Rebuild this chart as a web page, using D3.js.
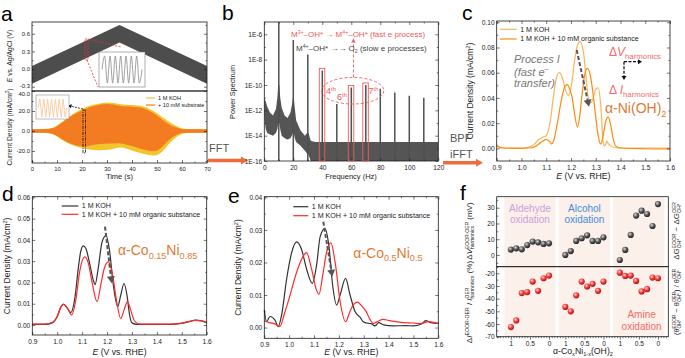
<!DOCTYPE html>
<html>
<head>
<meta charset="utf-8">
<script src="https://cdn.jsdelivr.net/npm/d3@7"></script>
<style>
  body { margin: 0; background: #fff; }
</style>
</head>
<body>
<script>
// ---------- data ----------

// a: centre of the AC-modulated potential ramp, and current envelopes
const rampTime = [0, 35, 70];
const rampCentre = [-0.1, 0.6, -0.1];
const acAmplitude = 0.15;
const insetWave = [0, 1, -1, 1, -1, 1, -1, 1, -1, 1, -1, 1, -1, 1, -1, 0];
const envTime = [0, 8, 10, 12.5, 15, 17.5, 20, 22.5, 25, 27.5, 30, 32.5, 35, 37.5, 40, 42.5, 45, 47.5, 50, 52.5, 55, 57.5, 60, 62, 70];
const kohTop = [1.7, 1.8, 5.5, 10, 15, 19, 22, 25, 26.5, 28, 28.7, 28, 27, 26, 26, 25.5, 24.5, 21.5, 18, 13, 9, 5, 2.5, 1.8, 1.7];
const kohBot = [-1.7, -1.8, -5.5, -10, -13, -15.5, -17, -18.5, -19, -19.2, -19, -18, -16, -17.5, -19.5, -21.5, -23, -24.5, -25, -20, -12, -6, -2.5, -1.8, -1.7];
const subTop = [1.7, 1.7, 5, 9, 14, 17.7, 20.3, 23.7, 25, 26.7, 27.3, 26.7, 25, 24.3, 24.3, 23.7, 22.7, 19.3, 16, 10.3, 6, 3.7, 1.7, 1.7, 1.7];
const subBot = [-1.7, -1.7, -5, -9, -12, -14.5, -16, -15, -13.5, -13, -12.5, -12.5, -12, -13.5, -15, -17, -19, -20, -20.5, -15, -8, -4, -1.7, -1.7, -1.7];

// b: power spectrum (log10 power)
const harmFreq = [10, 20, 30, 40, 50, 60, 70, 80, 90, 100, 110];
const harmLogP = [-4.5, -6.45, -7.6, -8.85, -11.5, -10.2, -10.0, -10.3, -10.6, -10.85, -11.0];
const boxedHarm = [40, 60, 70];
const noiseFreq = [0, 1, 2, 4, 6, 8, 9, 9.6, 10.4, 11, 12, 14, 16, 18, 19, 19.7, 20.3, 21, 22, 25, 28, 29.5, 30.5, 32, 35, 120];
const noiseHi = [-11.0, -11.3, -11.7, -12.2, -12.4, -11.9, -11.0, -10.0, -10.0, -11.0, -11.8, -12.4, -12.6, -12.2, -11.6, -11.0, -11.0, -11.8, -12.8, -13.6, -14.0, -13.8, -13.8, -14.4, -14.5, -14.5];
const noiseLo = [-12.5, -13.5, -13.8, -13.9, -14.0, -13.8, -13.5, -13.0, -13.0, -13.5, -14.0, -14.2, -14.3, -14.2, -14.0, -13.8, -13.8, -14.2, -14.5, -14.8, -15.2, -15.4, -15.5, -16, -16, -16];

// c: alpha-Ni(OH)2 harmonics  [E, j]
const niKOH = [[0.90,0.003],[0.91,0.001],[0.93,0.0005],[0.95,0.0003],[1.00,0.0003],[1.03,0.001],[1.05,0.003],[1.07,0.007],[1.085,0.0088],[1.10,0.010],[1.115,0.02],[1.13,0.042],[1.14,0.055],[1.153,0.060],[1.165,0.056],[1.18,0.045],[1.19,0.042],[1.20,0.048],[1.215,0.070],[1.225,0.081],[1.236,0.0847],[1.25,0.077],[1.26,0.058],[1.27,0.040],[1.28,0.036],[1.29,0.040],[1.30,0.047],[1.31,0.048],[1.32,0.035],[1.33,0.005],[1.335,0.002],[1.34,0.003],[1.345,0.006],[1.35,0.004],[1.36,0.002],[1.38,0.0005],[1.40,0.0003],[1.50,0.0002],[1.60,0.0002]];
const niOrg = [[0.90,0.002],[0.92,0.0003],[1.00,0.0],[1.04,0.0005],[1.06,0.002],[1.08,0.005],[1.10,0.0072],[1.115,0.005],[1.122,0.0035],[1.13,0.006],[1.145,0.02],[1.16,0.037],[1.175,0.049],[1.185,0.0505],[1.195,0.047],[1.205,0.04],[1.215,0.027],[1.226,0.017],[1.235,0.025],[1.245,0.043],[1.255,0.058],[1.266,0.0635],[1.278,0.058],[1.29,0.042],[1.30,0.025],[1.31,0.01],[1.32,0.0035],[1.33,0.01],[1.34,0.021],[1.35,0.025],[1.36,0.019],[1.37,0.008],[1.38,0.002],[1.40,0.0003],[1.50,-0.0003],[1.60,-0.0005]];

// d: alpha-Co0.15Ni0.85
const co15KOH = [[0.90,0.0003],[0.95,0.0003],[0.98,0.001],[1.00,0.004],[1.015,0.0085],[1.025,0.0098],[1.04,0.008],[1.055,0.0058],[1.07,0.012],[1.085,0.027],[1.095,0.035],[1.105,0.0372],[1.115,0.036],[1.13,0.029],[1.145,0.021],[1.152,0.019],[1.165,0.027],[1.18,0.039],[1.196,0.042],[1.21,0.035],[1.225,0.019],[1.243,0.0086],[1.255,0.014],[1.268,0.0195],[1.28,0.014],[1.29,0.005],[1.30,0.001],[1.32,0.0003],[1.45,0.0003],[1.50,0.0008],[1.53,0.0016],[1.555,0.0023],[1.58,0.0019],[1.60,0.0011]];
const co15Org = [[0.90,0.0004],[0.95,0.0004],[0.98,0.0012],[1.00,0.004],[1.015,0.0085],[1.027,0.0097],[1.04,0.008],[1.058,0.0047],[1.075,0.012],[1.09,0.025],[1.11,0.032],[1.125,0.029],[1.14,0.02],[1.16,0.011],[1.175,0.019],[1.19,0.027],[1.205,0.0297],[1.22,0.025],[1.24,0.01],[1.255,0.003],[1.268,0.007],[1.282,0.011],[1.295,0.007],[1.31,0.002],[1.33,0.0004],[1.45,0.0004],[1.50,0.0009],[1.53,0.0017],[1.555,0.0022],[1.58,0.0019],[1.60,0.0012]];

// e: alpha-Co0.5Ni0.5
const co50KOH = [[0.90,0.0054],[0.909,0.0018],[0.923,0.0034],[0.943,0.0023],[0.956,0.0003],[0.97,0.004],[0.99,0.015],[1.01,0.023],[1.03,0.0263],[1.05,0.024],[1.07,0.018],[1.093,0.0136],[1.11,0.019],[1.125,0.028],[1.144,0.0304],[1.16,0.025],[1.175,0.013],[1.191,0.0069],[1.205,0.01],[1.227,0.0151],[1.245,0.01],[1.265,0.0049],[1.285,0.0032],[1.298,0.0018],[1.318,0.0013],[1.33,0.0012],[1.345,0.0005],[1.36,0.0015],[1.38,0.0008],[1.42,0.0005],[1.47,0.0006],[1.50,0.0005],[1.53,0.001],[1.55,0.0021],[1.57,0.0015],[1.60,0.0013]];
const co50Org = [[0.90,0.002],[0.92,0.0015],[0.94,0.0012],[0.963,0.0003],[0.98,0.004],[1.00,0.009],[1.03,0.017],[1.05,0.021],[1.07,0.023],[1.09,0.018],[1.11,0.0115],[1.12,0.0102],[1.135,0.016],[1.15,0.023],[1.168,0.026],[1.185,0.02],[1.205,0.008],[1.227,0.0018],[1.245,0.005],[1.26,0.0072],[1.275,0.0078],[1.29,0.0068],[1.31,0.0049],[1.325,0.0025],[1.338,0.0013],[1.355,0.0018],[1.378,0.0025],[1.40,0.0022],[1.43,0.0018],[1.46,0.0015],[1.50,0.0014],[1.53,0.0012],[1.56,0.0018],[1.60,0.0012]];

// f: eight compositions (x = 1 ... 0) per reaction
const reactions = ["Aldehyde", "Alcohol", "Amine"];
const compTicks = ["1", "0.5", "0"];
const dVharm = [
  [3.4, 4.2, 3.6, 6.3, 8.5, 8.0, 7.0, 7.4],
  [0.0, 2.5, 8.9, 10.6, 12.5, 8.9, 8.9, 11.2],
  [-3.2, 3.2, 12.7, 25.0, 28.1, 26.0, 18.4, 32.3]
];
const dIharm = [
  [-62.4, -57.2, -35.6, -34.8, -26.5, -33.8, -23.9, -21.8],
  [-46.5, -50.0, -37.4, -26.5, -30.4, -28.3, -33.8, -26.5],
  [-19.5, -22.1, -21.8, -26.0, -34.3, -32.5, -23.4, -23.9]
];

// ---------- setup ----------
const W = 685, H = 358;
const INK = "#1a1a1a";
const RED_TXT = "#f26b6b";
const ORANGE_TXT = "#e07a35";

const svg = d3.select("body").append("svg")
  .attr("width", W).attr("height", H)
  .style("font-family", "'Liberation Sans', Arial, Helvetica, sans-serif");
const defs = svg.append("defs");

// rich text: strings, {t, s:"sup"/"sub", i:true}, or {stack:[sup, sub]}
function rich(text, parts, fs) {
  let off = 0, pad = 0;
  const shift = { sup: -0.38 * fs, sub: 0.25 * fs };
  parts.forEach(p => {
    if (typeof p === "string") p = { t: p };
    if (p.stack) {
      const a = text.append("tspan").attr("font-size", fs * 0.62)
        .attr("dx", pad).attr("dy", shift.sup - off).text(p.stack[0]);
      const wa = a.node().getComputedTextLength();
      const b = text.append("tspan").attr("font-size", fs * 0.62)
        .attr("dx", -wa).attr("dy", shift.sub - shift.sup).text(p.stack[1]);
      const wb = b.node().getComputedTextLength();
      off = shift.sub; pad = Math.max(0, wa - wb);
      return;
    }
    const target = p.s ? shift[p.s] : 0;
    const ts = text.append("tspan").attr("dx", pad).attr("dy", target - off).text(p.t);
    if (p.s) ts.attr("font-size", fs * 0.65);
    if (p.i) ts.attr("font-style", "italic");
    off = target; pad = 0;
  });
  return text;
}

function label(g, x, y, parts, o = {}) {
  const fs = o.fs || 8;
  const t = g.append("text").attr("x", x).attr("y", y)
    .attr("font-size", fs).attr("fill", o.fill || INK)
    .attr("text-anchor", o.anchor || "start");
  if (o.rot) t.attr("transform", `rotate(${o.rot},${x},${y})`);
  if (o.italic) t.attr("font-style", "italic");
  return rich(t, parts, fs);
}

function arrow(g, x1, y1, x2, y2, o) {
  const ang = Math.atan2(y2 - y1, x2 - x1), L = o.head || 5, hw = o.headW || 2.8;
  const bx = x2 - L * Math.cos(ang), by = y2 - L * Math.sin(ang);
  g.append("line").attr("x1", x1).attr("y1", y1).attr("x2", bx).attr("y2", by)
    .attr("stroke", o.color).attr("stroke-width", o.width || 1)
    .attr("stroke-dasharray", o.dash || null);
  const px = -Math.sin(ang) * hw, py = Math.cos(ang) * hw;
  g.append("path").attr("d", `M${x2},${y2}L${bx + px},${by + py}L${bx - px},${by - py}Z`)
    .attr("fill", o.color);
}

// frame with inward ticks (Origin style), mirrored on top/right
function frame(g, x, y, o) {
  const [xl, xr] = x.range(), [yb, yt] = y.range();
  const fs = o.fs || 6.8;
  const put = (fn, scale, vals, size, fmt, tx, ty, pad) => {
    const a = g.append("g").attr("transform", `translate(${tx},${ty})`)
      .call(fn(scale).tickValues(vals).tickSize(size).tickSizeOuter(0)
        .tickPadding(pad).tickFormat(fmt || (() => "")));
    a.select(".domain").remove();
    a.attr("font-family", null).attr("font-size", fs);
    a.selectAll("line").attr("stroke", INK).attr("stroke-width", 0.6);
    a.selectAll("text").attr("fill", INK);
    return a;
  };
  if (o.xTicks) {
    const xin = o.xOut ? 3 : -3;
    put(d3.axisBottom, x, o.xTicks, xin, o.xFmt, 0, yb, o.xOut ? 2 : 4);
    if (o.xMinor) put(d3.axisBottom, x, o.xMinor, xin / 2, null, 0, yb, 0);
    if (!o.noTop) {
      put(d3.axisTop, x, o.xTicks, -3, null, 0, yt, 0);
      if (o.xMinor) put(d3.axisTop, x, o.xMinor, -1.5, null, 0, yt, 0);
    }
  }
  const left = put(d3.axisLeft, y, o.yTicks, -3, o.yFmt, xl, 0, 2);
  if (o.yMinor) put(d3.axisLeft, y, o.yMinor, -1.5, null, xl, 0, 0);
  if (!o.noRight) {
    put(d3.axisRight, y, o.yTicks, -3, null, xr, 0, 0);
    if (o.yMinor) put(d3.axisRight, y, o.yMinor, -1.5, null, xr, 0, 0);
  }
  g.append("rect").attr("x", xl).attr("y", yt).attr("width", xr - xl).attr("height", yb - yt)
    .attr("fill", "none").attr("stroke", INK).attr("stroke-width", 0.8);
  return left;
}

function panelLetter(ch, x, y) {
  svg.append("text").attr("x", x).attr("y", y).attr("font-size", 21).attr("fill", "#000").text(ch);
}

const fix = n => d => d.toFixed(n);
const eTicks = d3.range(0.9, 1.6001, 0.1);
const eMinor = d3.range(0.95, 1.6, 0.1);

// ========== panel a ==========
{
  const g = svg.append("g");
  const x = d3.scaleLinear().domain([0, 70]).range([32, 207]);
  const yT = d3.scaleLinear().domain([-0.373, 0.8]).range([91, 22]);
  const yB = d3.scaleLinear().domain([-32, 40]).range([163, 91]);

  // modulated potential band
  const centre = d3.scaleLinear().domain(rampTime).range(rampCentre);
  g.append("path")
    .datum(rampTime)
    .attr("d", d3.area().x(d => x(d))
      .y0(d => yT(centre(d) - acAmplitude)).y1(d => yT(centre(d) + acAmplitude)))
    .attr("fill", "#4d4d4d");

  // current envelopes
  const env = (top, bot) => d3.area().curve(d3.curveBasis)
    .x((d, i) => x(envTime[i])).y0((d, i) => yB(bot[i])).y1((d, i) => yB(top[i]));
  g.append("path").datum(envTime).attr("d", env(kohTop, kohBot)).attr("fill", "#f2c52a");
  g.append("path").datum(envTime).attr("d", env(subTop, subBot)).attr("fill", "#f37b21");

  const lb = frame(g, x, yB, {
    xTicks: d3.range(0, 71, 10), xMinor: d3.range(5, 70, 10), xFmt: d => d,
    yTicks: [-20, 0, 20, 40], yMinor: [-30, -10, 10, 30], yFmt: fix(1), fs: 5.9, noTop: true
  });
  // keep "40.0" clear of the upper panel's "-0.3"
  lb.selectAll(".tick").filter(d => d === 40).select("text").attr("dy", "0.75em");
  const lt = frame(g, x, yT, {
    yTicks: [-0.3, 0, 0.3, 0.6], yMinor: [-0.15, 0.15, 0.45, 0.75], yFmt: fix(1), fs: 5.9
  });
  lt.selectAll(".tick").filter(d => d === -0.3).select("text").attr("dy", "0.1em");

  // zoom on the sine modulation
  g.append("rect").attr("x", 85).attr("y", 39).attr("width", 3).attr("height", 21)
    .attr("fill", "none").attr("stroke", "#e8353a").attr("stroke-width", 0.8).attr("stroke-dasharray", "2,1");
  g.append("line").attr("x1", 88).attr("y1", 39).attr("x2", 121).attr("y2", 47)
    .attr("stroke", "#e8353a").attr("stroke-width", 0.8).attr("stroke-dasharray", "2,1.5");
  g.append("line").attr("x1", 87).attr("y1", 60).attr("x2", 98).attr("y2", 87)
    .attr("stroke", "#e8353a").attr("stroke-width", 0.8).attr("stroke-dasharray", "2,1.5");
  g.append("rect").attr("x", 99).attr("y", 52).attr("width", 46).attr("height", 35)
    .attr("fill", "#fff").attr("stroke", "#777").attr("stroke-width", 0.6);
  const ix = d3.scaleLinear().domain([0, insetWave.length - 1]).range([102, 142]);
  const iy = d3.scaleLinear().domain([-1, 1]).range([83, 56]);
  g.append("path").datum(insetWave)
    .attr("d", d3.line().curve(d3.curveMonotoneX).x((d, i) => ix(i)).y(d => iy(d)))
    .attr("fill", "none").attr("stroke", "#777").attr("stroke-width", 0.7);

  // zoom on the current oscillation
  g.append("rect").attr("x", 83).attr("y", 110).attr("width", 2.5).attr("height", 43)
    .attr("fill", "none").attr("stroke", "#111").attr("stroke-width", 0.8).attr("stroke-dasharray", "3,1,1,1");
  arrow(g, 83, 109, 68, 105.5, { color: "#111", width: 0.8, dash: "2,1.2", head: 3.5, headW: 2 });
  g.append("rect").attr("x", 36).attr("y", 95).attr("width", 33).attr("height", 24)
    .attr("fill", "#fff").attr("stroke", "#777").attr("stroke-width", 0.5);
  const jx = d3.scaleLinear().domain([0, insetWave.length - 1]).range([38, 67]);
  const jy = d3.scaleLinear().domain([-1, 1]).range([117, 99]);
  g.append("path").datum(insetWave)
    .attr("d", d3.line().x((d, i) => jx(i)).y(d => jy(d)))
    .attr("fill", "none").attr("stroke", "#f8c9a0").attr("stroke-width", 0.9);

  // legend
  [["1 M KOH", "#f0c43a", 98], ["+ 10 mM substrate", "#f47920", 105]].forEach(([t, c, yy]) => {
    g.append("line").attr("x1", 146).attr("x2", 155).attr("y1", yy).attr("y2", yy)
      .attr("stroke", c).attr("stroke-width", 1.2);
    g.append("text").attr("x", 158).attr("y", yy + 2).attr("font-size", 5.6).attr("fill", INK).text(t);
  });

  label(g, 12, 56, [{ t: "E", i: true }, " vs. Ag/AgCl (V)"], { fs: 6.8, rot: -90, anchor: "middle" });
  label(g, 12, 127, ["Current Density (mA/cm", { t: "2", s: "sup" }, ")"], { fs: 6.8, rot: -90, anchor: "middle" });
  label(g, 119.5, 179, ["Time (s)"], { fs: 7.5, anchor: "middle" });
  panelLetter("a", 1, 21);
}

// FFT arrow
{
  const g = svg.append("g");
  g.append("text").attr("x", 209).attr("y", 152).attr("font-size", 11).attr("fill", "#555").text("FFT");
  arrow(g, 208, 160.5, 248, 160.5, { color: "#f16a3c", width: 3.5, head: 7, headW: 4 });
  g.append("text").attr("x", 450).attr("y", 142).attr("font-size", 11).attr("fill", "#555").text("BPF");
  g.append("text").attr("x", 450).attr("y", 158).attr("font-size", 11).attr("fill", "#555").text("iFFT");
  arrow(g, 443, 162.7, 483, 162.7, { color: "#f16a3c", width: 3.5, head: 7, headW: 4 });
}

// ========== panel b ==========
{
  const g = svg.append("g");
  const x = d3.scaleLinear().domain([0, 120]).range([264.3, 438.3]);
  const y = d3.scaleLinear().domain([-16, -5.03]).range([161, 22]);
  defs.append("clipPath").attr("id", "clipB").append("rect")
    .attr("x", 264.3).attr("y", 22).attr("width", 174).attr("height", 139);
  const plot = g.append("g").attr("clip-path", "url(#clipB)");

  plot.append("path").datum(noiseFreq)
    .attr("d", d3.area().x(d => x(d))
      .y0((d, i) => y(noiseLo[i])).y1((d, i) => y(noiseHi[i])))
    .attr("fill", "#555");
  plot.selectAll("line.peak").data(harmFreq).join("line")
    .attr("class", "peak")
    .attr("x1", d => x(d)).attr("x2", d => x(d))
    .attr("y1", y(-16)).attr("y2", (d, i) => y(harmLogP[i]))
    .attr("stroke", "#505050").attr("stroke-width", 1.5);

  frame(g, x, y, {
    xTicks: d3.range(0, 121, 20), xMinor: d3.range(10, 120, 20), xFmt: d => d,
    yTicks: [-16, -14, -12, -10, -8, -6], yMinor: [-15, -13, -11, -9, -7], yFmt: d => "1E" + d, fs: 6.6
  });

  // highlighted harmonics
  boxedHarm.forEach(f => {
    const p = harmLogP[harmFreq.indexOf(f)];
    g.append("rect").attr("x", x(f) - 3).attr("y", y(p) - 2)
      .attr("width", 5.5).attr("height", y(-16) - y(p) + 2)
      .attr("fill", "none").attr("stroke", "#f05a5a").attr("stroke-width", 0.9);
  });
  g.append("ellipse").attr("cx", x(61)).attr("cy", 90.7).attr("rx", 31).attr("ry", 13.3)
    .attr("fill", "none").attr("stroke", "#f05a5a").attr("stroke-width", 0.9).attr("stroke-dasharray", "3,2");
  arrow(g, x(61.5), 77.5, x(61.5), 38.5, { color: "#f05a5a", width: 0.9, dash: "3,2", head: 4, headW: 2.2 });
  [["4", 326, 94], ["6", 337, 100], ["7", 368.5, 94]].forEach(([n, xx, yy]) =>
    label(g, xx, yy, [n, { t: "th", s: "sup" }], { fs: 9, fill: "#f05a5a" }));

  label(g, 291, 37, ["M", { t: "3+", s: "sup" }, "–OH* → M", { t: "4+", s: "sup" }, "–OH* (fast e process)"],
    { fs: 8, fill: "#f05a5a" });
  label(g, 296, 51, ["M", { t: "4+", s: "sup" }, "–OH* →→ O", { t: "2", s: "sub" }, " (slow e processes)"],
    { fs: 8, fill: "#444" });

  label(g, 235, 92, ["Power Spectrum"], { fs: 7.3, rot: -90, anchor: "middle" });
  label(g, 351, 179, ["Frequency (Hz)"], { fs: 7.5, anchor: "middle" });
  panelLetter("b", 222, 20);
}

// generic harmonic-current panel (c, d, e)
function harmonicPanel(o) {
  const g = svg.append("g");
  const x = d3.scaleLinear().domain([0.9, 1.6]).range(o.xr);
  const y = d3.scaleLinear().domain(o.yd).range(o.yr);
  const line = d3.line().curve(d3.curveMonotoneX).x(d => x(d[0])).y(d => y(d[1]));
  o.series.forEach(s => {
    g.append("path").datum(s.data).attr("d", line)
      .attr("fill", "none").attr("stroke", s.color).attr("stroke-width", 1.2);
  });
  frame(g, x, y, {
    xTicks: eTicks, xMinor: eMinor, xFmt: fix(1),
    yTicks: o.yTicks, yMinor: o.yMinor, yFmt: fix(2), fs: 6.6
  });
  o.series.forEach((s, i) => {
    const yy = o.leg[1] + i * o.leg[3];
    g.append("line").attr("x1", o.leg[0]).attr("x2", o.leg[0] + o.leg[2])
      .attr("y1", yy).attr("y2", yy).attr("stroke", s.color).attr("stroke-width", 1.2);
    g.append("text").attr("x", o.leg[0] + o.leg[2] + 3.5).attr("y", yy + 2.4)
      .attr("font-size", 7.1).attr("fill", INK).text(s.name);
  });
  const [xl, xr] = o.xr, [yb, yt] = o.yr;
  label(g, o.ylabX, (yb + yt) / 2, ["Current Density (mA/cm", { t: "2", s: "sup" }, ")"],
    { fs: 8.5, rot: -90, anchor: "middle" });
  label(g, (xl + xr) / 2, o.xlabY, [{ t: "E", i: true }, " (V vs. RHE)"], { fs: 8.7, anchor: "middle" });
  return { g, x, y };
}

// ========== panel c ==========
{
  const { g } = harmonicPanel({
    xr: [496.7, 670], yr: [161, 21], yd: [-0.01, 0.101],
    yTicks: d3.range(0, 0.101, 0.02), yMinor: d3.range(0.01, 0.1, 0.02),
    series: [
      { name: "1 M KOH", color: "#f8b55a", data: niKOH },
      { name: "1 M KOH + 10 mM organic substance", color: "#ff8a10", data: niOrg }
    ],
    leg: [500, 29.3, 16.7, 9.7], ylabX: 473, xlabY: 179
  });
  label(g, 514, 62.5, ["Process I"], { fs: 11, fill: "#777", italic: true });
  label(g, 514, 75.5, ["(fast e", { t: "–", s: "sup" }], { fs: 11, fill: "#777", italic: true });
  label(g, 514, 87, ["transfer)"], { fs: 11, fill: "#777", italic: true });
  arrow(g, 576.7, 50, 589, 106.7, { color: "#555", width: 2, dash: "4,2.2", head: 7, headW: 4 });
  label(g, 609, 55.5, ["Δ", { t: "V", i: true }, { t: "harmonics", s: "sub" }], { fs: 12, fill: RED_TXT });
  label(g, 609, 93.5, ["Δ ", { t: "I", i: true }, { t: "harmonics", s: "sub" }], { fs: 12, fill: RED_TXT });
  arrow(g, 624, 61.7, 642, 61.7, { color: "#111", width: 1.3, dash: "3,1.5", head: 4, headW: 2.5 });
  arrow(g, 624, 61.7, 624, 80, { color: "#111", width: 1.3, dash: "3,1.5", head: 4, headW: 2.5 });
  label(g, 605, 113, ["α-Ni(OH)", { t: "2", s: "sub" }], { fs: 14, fill: ORANGE_TXT });
  panelLetter("c", 462, 20);
}

// ========== panel d ==========
{
  const { g } = harmonicPanel({
    xr: [32.3, 206.7], yr: [335, 196.7], yd: [-0.0047, 0.0603],
    yTicks: d3.range(0, 0.0601, 0.01), yMinor: d3.range(0.005, 0.06, 0.01),
    series: [
      { name: "1 M KOH", color: "#333", data: co15KOH },
      { name: "1 M KOH + 10 mM organic substance", color: "#ff2a2a", data: co15Org }
    ],
    leg: [61.7, 206, 16.6, 8.3], ylabX: 10, xlabY: 355
  });
  arrow(g, 105, 226.7, 111.7, 283.3, { color: "#555", width: 2, dash: "4,2.2", head: 7, headW: 4 });
  label(g, 118, 255, ["α-Co", { t: "0.15", s: "sub" }, "Ni", { t: "0.85", s: "sub" }], { fs: 14, fill: ORANGE_TXT });
  panelLetter("d", 2, 201);
}

// ========== panel e ==========
{
  const { g } = harmonicPanel({
    xr: [264.3, 438.3], yr: [338.3, 196.7], yd: [-0.0033, 0.0402],
    yTicks: d3.range(0, 0.0401, 0.01), yMinor: d3.range(0.005, 0.04, 0.01),
    series: [
      { name: "1 M KOH", color: "#333", data: co50KOH },
      { name: "1 M KOH + 10 mM organic substance", color: "#ff2a2a", data: co50Org }
    ],
    leg: [293.3, 206.7, 15, 9], ylabX: 241, xlabY: 355
  });
  arrow(g, 323.3, 221.7, 332.3, 276.7, { color: "#555", width: 2, dash: "4,2.2", head: 7, headW: 4 });
  label(g, 353.3, 257.7, ["α-Co", { t: "0.5", s: "sub" }, "Ni", { t: "0.5", s: "sub" }], { fs: 14, fill: ORANGE_TXT });
  panelLetter("e", 228, 203);
}

// ========== panel f ==========
{
  const g = svg.append("g");
  const x = d3.scaleLinear().domain([-2.6, 28.9]).range([496.7, 668.3]);
  const yT = d3.scaleLinear().domain([-7.45, 37]).range([266.7, 196.7]);
  const yB = d3.scaleLinear().domain([-70, -14.8]).range([336.7, 266.7]);
  const pos = (gi, i) => gi * 10 + i;

  // shaded reaction blocks
  reactions.forEach((r, gi) => {
    g.append("rect").attr("x", x(pos(gi, -1.2))).attr("y", 196.7)
      .attr("width", x(pos(gi, 8.2)) - x(pos(gi, -1.2))).attr("height", 140)
      .attr("fill", "#fcf0ea");
  });

  ["gBall", "rBall"].forEach((id, k) => {
    const rg = defs.append("radialGradient").attr("id", id)
      .attr("cx", "38%").attr("cy", "35%").attr("r", "65%");
    rg.append("stop").attr("offset", "0%").attr("stop-color", k ? "#ffd4d4" : "#d8d8d8");
    rg.append("stop").attr("offset", "55%").attr("stop-color", k ? "#f03a3a" : "#555");
    rg.append("stop").attr("offset", "100%").attr("stop-color", k ? "#b81010" : "#222");
  });

  const majors = reactions.flatMap((r, gi) => [0, 3.5, 7].map(p => pos(gi, p)));
  const minors = d3.range(-2.5, 28.6, 0.5).filter(v => !majors.includes(v));

  frame(g, x, yT, { yTicks: [0, 10, 20, 30], yMinor: [-5, 5, 15, 25, 35], yFmt: d => d, fs: 6.6, noRight: true });
  frame(g, x, yB, {
    xTicks: majors, xMinor: minors, xFmt: d => compTicks[majors.indexOf(d) % 3], xOut: true, noTop: true,
    yTicks: d3.range(-70, -19, 10), yMinor: d3.range(-65, -14, 10), yFmt: d => d, fs: 6.6, noRight: true
  });

  reactions.forEach((r, gi) => {
    g.selectAll(null).data(dVharm[gi]).join("circle")
      .attr("cx", (d, i) => x(pos(gi, i))).attr("cy", d => yT(d)).attr("r", 3.1)
      .attr("fill", "url(#gBall)");
    g.selectAll(null).data(dIharm[gi]).join("circle")
      .attr("cx", (d, i) => x(pos(gi, i))).attr("cy", d => yB(d)).attr("r", 3.1)
      .attr("fill", "url(#rBall)");
  });

  const tx = [
    [x(pos(0, 3.5)), 211.5, 223, "#c8a0dc"],
    [x(pos(1, 3.5)), 211.5, 223, "#3d8ddc"],
    [x(pos(2, 4)), 318.3, 330, RED_TXT]
  ];
  reactions.forEach((r, gi) => {
    const [cx, y1, y2, c] = tx[gi];
    g.append("text").attr("x", cx).attr("y", y1).attr("text-anchor", "middle")
      .attr("font-size", 10).attr("fill", c).text(r);
    g.append("text").attr("x", cx).attr("y", y2).attr("text-anchor", "middle")
      .attr("font-size", 10).attr("fill", c).text("oxidation");
  });

  label(g, 472, 231, ["Δ", { t: "V", i: true }, { stack: ["EOOR-OER", "harmonics"] }, " (mV)"],
    { fs: 8, rot: -90, anchor: "middle" });
  label(g, 472, 302, ["Δ", { t: "I", i: true }, { t: "EOOR-OER", s: "sup" }, " / ", { t: "I", i: true },
    { stack: ["OER", "harmonics"] }, " (%)"], { fs: 8, rot: -90, anchor: "middle" });
  label(g, 679, 231, ["ΔG", { stack: ["EOOR", "OH*"] }, " − ΔG", { stack: ["OER", "OH*"] }],
    { fs: 8, rot: -90, anchor: "middle" });
  label(g, 679, 302, ["(θ", { stack: ["EOOR", "OH*"] }, " − θ", { stack: ["OER", "OH*"] }, ") / θ",
    { stack: ["OER", "OH*"] }], { fs: 7.5, rot: -90, anchor: "middle" });
  label(g, 583, 354, ["α-Co", { t: "x", s: "sub" }, "Ni", { t: "1-x", s: "sub" }, "(OH)", { t: "2", s: "sub" }],
    { fs: 8.7, anchor: "middle" });
  panelLetter("f", 460, 200);
}
</script>
</body>
</html>
